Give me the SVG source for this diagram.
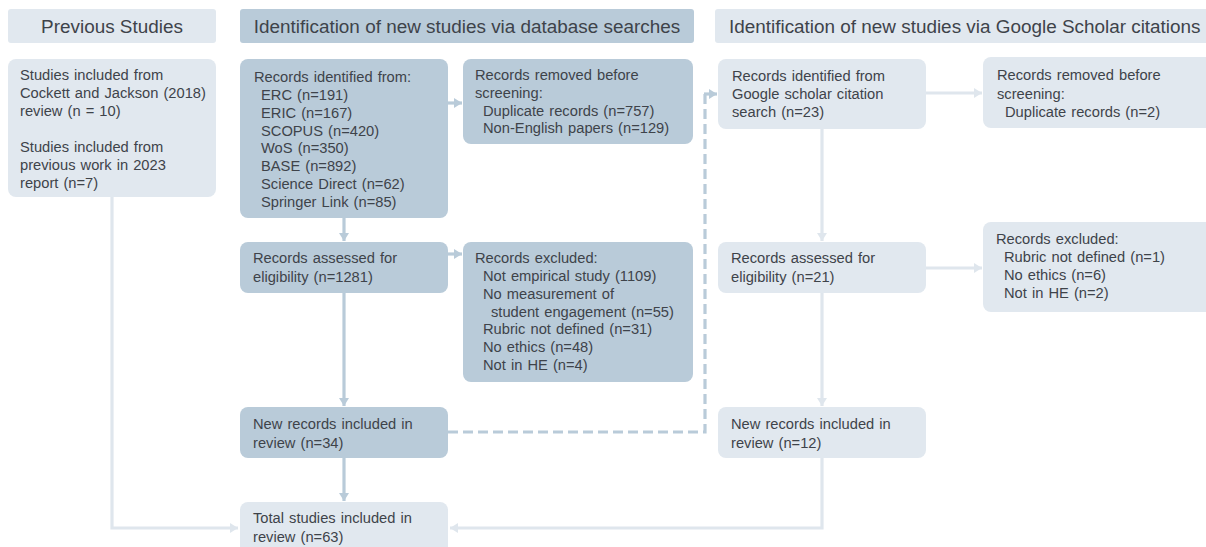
<svg xmlns="http://www.w3.org/2000/svg" width="1206" height="547" viewBox="0 0 1206 547">
  <style>
    .hdr-light { fill: #e1e8ef; }
    .hdr-dark { fill: #b9cbd9; }
    .box-light { fill: #e1e8ef; }
    .box-dark { fill: #b9cbd9; }
    .htxt { font-family: "Liberation Sans", Arial, sans-serif; font-size: 18.9px; fill: #3e434a; }
    .txt { font-family: "Liberation Sans", Arial, sans-serif; font-size: 14.7px; word-spacing: 1px; fill: #3e434a; }
    .ln-dark { fill: none; stroke: #b9cbd9; stroke-width: 3.2; }
    .ln-light { fill: none; stroke: #dfe6ed; stroke-width: 3.2; }
    .dash { stroke-dasharray: 10 5; }
  </style>
  <defs>
    <marker id="ah-dark" markerUnits="userSpaceOnUse" markerWidth="10" markerHeight="10" refX="8" refY="5" orient="auto">
      <path d="M0,0 L8,5 L0,10 Z" fill="#b9cbd9"/>
    </marker>
    <marker id="ah-light" markerUnits="userSpaceOnUse" markerWidth="10" markerHeight="10" refX="8" refY="5" orient="auto">
      <path d="M0,0 L8,5 L0,10 Z" fill="#dfe6ed"/>
    </marker>
  </defs>

  <rect width="1206" height="547" fill="#ffffff"/>

  <!-- column headers -->
  <g id="hdr-previous">
    <rect class="hdr-light" x="8" y="9" width="208" height="34" rx="3"/>
    <text class="htxt" x="112" y="33" text-anchor="middle">Previous Studies</text>
  </g>
  <g id="hdr-database">
    <rect class="hdr-dark" x="240" y="9" width="454" height="34" rx="3"/>
    <text class="htxt" x="467" y="33" text-anchor="middle">Identification of new studies via database searches</text>
  </g>
  <g id="hdr-scholar">
    <rect class="hdr-light" x="715" y="9" width="500" height="34" rx="3"/>
    <text class="htxt" x="729" y="33">Identification of new studies via Google Scholar citations</text>
  </g>

  <!-- connectors -->
  <g id="connectors">
    <path class="ln-light" d="M112,197 V528 H238" marker-end="url(#ah-light)"/>
    <path class="ln-dark" d="M344,218 V241" marker-end="url(#ah-dark)"/>
    <path class="ln-dark" d="M344,293 V406" marker-end="url(#ah-dark)"/>
    <path class="ln-dark" d="M344,458 V501" marker-end="url(#ah-dark)"/>
    <path class="ln-dark" d="M448,103 H462" marker-end="url(#ah-dark)"/>
    <path class="ln-dark" d="M448,254 H462" marker-end="url(#ah-dark)"/>
    <path class="ln-dark dash" d="M448,432 H705 V94"/>
    <path class="ln-dark" d="M704,94 H717" marker-end="url(#ah-dark)"/>
    <path class="ln-light" d="M822,129 V241" marker-end="url(#ah-light)"/>
    <path class="ln-light" d="M822,293 V406" marker-end="url(#ah-light)"/>
    <path class="ln-light" d="M926,93 H982" marker-end="url(#ah-light)"/>
    <path class="ln-light" d="M926,268 H982" marker-end="url(#ah-light)"/>
    <path class="ln-light" d="M822,458 V528 H450" marker-end="url(#ah-light)"/>
  </g>

  <!-- previous studies -->
  <g id="previous-studies">
    <rect class="box-light" x="8" y="59" width="208" height="138" rx="8"/>
    <text class="txt" x="20" y="80">Studies included from</text>
    <text class="txt" x="20" y="98">Cockett and Jackson (2018)</text>
    <text class="txt" x="20" y="116">review (n = 10)</text>
    <text class="txt" x="20" y="152">Studies included from</text>
    <text class="txt" x="20" y="170">previous work in 2023</text>
    <text class="txt" x="20" y="188">report (n=7)</text>
  </g>

  <!-- database searches -->
  <g id="db-identified">
    <rect class="box-dark" x="240" y="59" width="208" height="159" rx="8"/>
    <text class="txt" x="254" y="82">Records identified from:</text>
    <text class="txt" x="261" y="100">ERC (n=191)</text>
    <text class="txt" x="261" y="118">ERIC (n=167)</text>
    <text class="txt" x="261" y="135.5">SCOPUS (n=420)</text>
    <text class="txt" x="261" y="153">WoS (n=350)</text>
    <text class="txt" x="261" y="171">BASE (n=892)</text>
    <text class="txt" x="261" y="189">Science Direct (n=62)</text>
    <text class="txt" x="261" y="206.5">Springer Link (n=85)</text>
  </g>
  <g id="db-removed">
    <rect class="box-dark" x="463" y="59" width="230" height="85" rx="8"/>
    <text class="txt" x="475" y="80">Records removed before</text>
    <text class="txt" x="475" y="98">screening:</text>
    <text class="txt" x="483" y="116">Duplicate records (n=757)</text>
    <text class="txt" x="483" y="133">Non-English papers (n=129)</text>
  </g>
  <g id="db-assessed">
    <rect class="box-dark" x="240" y="242" width="208" height="51" rx="8"/>
    <text class="txt" x="253" y="263">Records assessed for</text>
    <text class="txt" x="253" y="282">eligibility  (n=1281)</text>
  </g>
  <g id="db-excluded">
    <rect class="box-dark" x="463" y="242" width="230" height="140" rx="8"/>
    <text class="txt" x="475" y="263">Records excluded:</text>
    <text class="txt" x="483" y="281">Not empirical study  (1109)</text>
    <text class="txt" x="483" y="298.5">No measurement of</text>
    <text class="txt" x="491" y="316.5">student engagement (n=55)</text>
    <text class="txt" x="483" y="334">Rubric not defined (n=31)</text>
    <text class="txt" x="483" y="352">No ethics (n=48)</text>
    <text class="txt" x="483" y="370">Not in HE (n=4)</text>
  </g>
  <g id="db-included">
    <rect class="box-dark" x="240" y="407" width="208" height="51" rx="8"/>
    <text class="txt" x="253" y="429">New records included in</text>
    <text class="txt" x="253" y="448">review (n=34)</text>
  </g>
  <g id="total-included">
    <rect class="box-light" x="240" y="502" width="208" height="60" rx="8"/>
    <text class="txt" x="253" y="523">Total studies included in</text>
    <text class="txt" x="253" y="542">review (n=63)</text>
  </g>

  <!-- google scholar citations -->
  <g id="gs-identified">
    <rect class="box-light" x="718" y="59" width="208" height="70" rx="8"/>
    <text class="txt" x="732" y="81">Records identified from</text>
    <text class="txt" x="732" y="99">Google scholar citation</text>
    <text class="txt" x="732" y="117">search (n=23)</text>
  </g>
  <g id="gs-removed">
    <rect class="box-light" x="983" y="57" width="240" height="71" rx="8"/>
    <text class="txt" x="997" y="80">Records removed before</text>
    <text class="txt" x="997" y="99">screening:</text>
    <text class="txt" x="1005" y="117">Duplicate records (n=2)</text>
  </g>
  <g id="gs-assessed">
    <rect class="box-light" x="718" y="242" width="208" height="51" rx="8"/>
    <text class="txt" x="731" y="263">Records assessed for</text>
    <text class="txt" x="731" y="282">eligibility  (n=21)</text>
  </g>
  <g id="gs-excluded">
    <rect class="box-light" x="983" y="222" width="240" height="90" rx="8"/>
    <text class="txt" x="996" y="244">Records excluded:</text>
    <text class="txt" x="1004" y="262">Rubric not defined (n=1)</text>
    <text class="txt" x="1004" y="280">No ethics (n=6)</text>
    <text class="txt" x="1004" y="298">Not in HE (n=2)</text>
  </g>
  <g id="gs-included">
    <rect class="box-light" x="718" y="407" width="208" height="51" rx="8"/>
    <text class="txt" x="731" y="429">New records included in</text>
    <text class="txt" x="731" y="448">review (n=12)</text>
  </g>
</svg>
